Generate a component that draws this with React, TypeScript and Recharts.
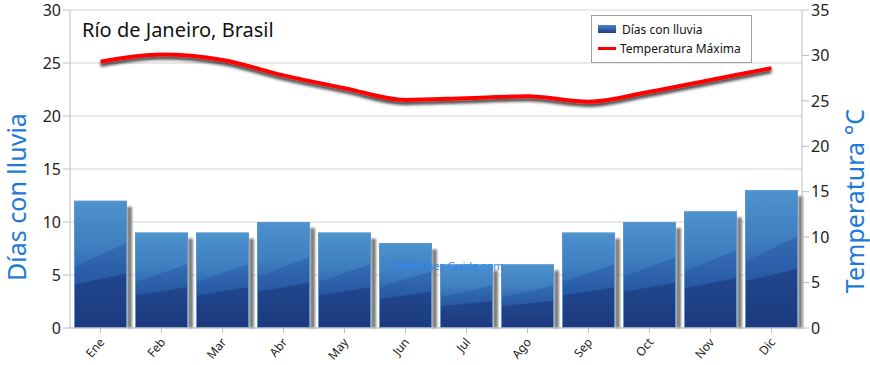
import { ComposedChart, Bar, Line, XAxis, YAxis, CartesianGrid } from 'recharts';

const MONTHS = ['Ene', 'Feb', 'Mar', 'Abr', 'May', 'Jun', 'Jul', 'Ago', 'Sep', 'Oct', 'Nov', 'Dic'];
const RAIN_DAYS = [12, 9, 9, 10, 9, 8, 6, 6, 9, 10, 11, 13];
const MAX_TEMP = [29.3, 30.1, 29.5, 27.8, 26.4, 25.1, 25.3, 25.5, 24.9, 26.0, 27.3, 28.6];
const LEFT_TICKS = [0, 5, 10, 15, 20, 25, 30];
const RIGHT_TICKS = [0, 5, 10, 15, 20, 25, 30, 35];

const data = MONTHS.map((m, i) => ({ month: m, rain: RAIN_DAYS[i], temp: MAX_TEMP[i] }));

const FONT = '"Comic Sans MS", "Noto Sans", sans-serif';

const RainBar = (props: any) => {
    const { x, y, width, height } = props;
    if (!height || height <= 0) return null;
    return (
        <g>
            <rect x={x + width} y={y + 6} width={5} height={height - 6} fill="#808080" filter="url(#barBlur)" />
            <rect x={x} y={y} width={width} height={height} fill="url(#barGrad)" />
            <path
                d={`M${x},${y + height * 0.52} L${x + width},${y + height * 0.33} L${x + width},${y + height} L${x},${y + height} Z`}
                fill="#22509e"
                opacity={0.4}
            />
            <path
                d={`M${x},${y + height * 0.66} L${x + width},${y + height * 0.57} L${x + width},${y + height} L${x},${y + height} Z`}
                fill="#1c3478"
                opacity={0.55}
            />
            <rect x={x + 0.5} y={y + 0.5} width={width - 1} height={height - 1} fill="none" stroke="#5d97cf" strokeWidth={1} />
        </g>
    );
};

const LegendBox = () => (
    <div
        style={{
            position: 'absolute',
            left: 591,
            top: 15,
            width: 161,
            height: 48,
            background: '#fff',
            border: '1px solid #a0a0a0',
            boxSizing: 'border-box',
            fontFamily: FONT,
            fontSize: 12,
            color: '#111',
            padding: '4px 0 0 6px',
            whiteSpace: 'nowrap',
        }}
    >
        <div style={{ display: 'flex', alignItems: 'center', height: 18 }}>
            <span style={{ width: 18, height: 8, background: 'linear-gradient(#4a86c5, #1e3d86)', marginRight: 6 }} />
            Días con lluvia
        </div>
        <div style={{ display: 'flex', alignItems: 'center', height: 20 }}>
            <span style={{ width: 18, height: 3, background: '#ff0000', marginRight: 4 }} />
            Temperatura Máxima
        </div>
    </div>
);

export default function App() {
    return (
        <div style={{ position: 'absolute', left: 0, top: 0, width: 870, height: 365, background: '#fff' }}>
            <ComposedChart
                width={870}
                height={365}
                data={data}
                margin={{ top: 10, right: 0, left: 0, bottom: 0 }}
                barCategoryGap={4}
            >
                <defs>
                    <linearGradient id="barGrad" x1="0" y1="0" x2="0" y2="1">
                        <stop offset="0%" stopColor="#4d92cd" />
                        <stop offset="35%" stopColor="#3f7fc0" />
                        <stop offset="65%" stopColor="#2b5ea9" />
                        <stop offset="100%" stopColor="#1c3476" />
                    </linearGradient>
                    <filter id="lineShadow" x="-5%" y="-50%" width="110%" height="200%">
                        <feDropShadow dx="0" dy="3" stdDeviation="1.5" floodColor="#000" floodOpacity="0.75" />
                    </filter>
                    <filter id="barBlur" x="-50%" y="-5%" width="200%" height="110%">
                        <feGaussianBlur stdDeviation="0.8" />
                    </filter>
                </defs>
                <CartesianGrid vertical={false} stroke="#d4d4d4" yAxisId="left" />
                <XAxis
                    dataKey="month"
                    height={37}
                    interval={0}
                    tick={{ fontSize: 12, fill: '#222', fontFamily: FONT, angle: -50, textAnchor: 'end', dx: -2, dy: 2 }}
                    tickSize={5}
                    stroke="#bdbdbd"
                />
                <YAxis
                    yAxisId="left"
                    domain={[0, 30]}
                    ticks={LEFT_TICKS}
                    width={70}
                    tick={{ fontSize: 16, fill: '#222', fontFamily: FONT }}
                    tickSize={7}
                    stroke="#bdbdbd"
                    label={{
                        value: 'Días con lluvia',
                        angle: -90,
                        position: 'insideLeft',
                        dx: 12,
                        dy: 28,
                        style: { fontSize: 25, fill: '#1e7ad6', fontFamily: FONT, textAnchor: 'middle' },
                    }}
                />
                <YAxis
                    yAxisId="right"
                    orientation="right"
                    domain={[0, 35]}
                    ticks={RIGHT_TICKS}
                    width={68}
                    tick={{ fontSize: 16, fill: '#222', fontFamily: FONT }}
                    tickSize={7}
                    stroke="#bdbdbd"
                    label={{
                        value: 'Temperatura °C',
                        angle: -90,
                        position: 'insideRight',
                        dx: -10,
                        dy: 32,
                        style: { fontSize: 25, fill: '#1e7ad6', fontFamily: FONT, textAnchor: 'middle' },
                    }}
                />
                <Bar yAxisId="left" dataKey="rain" name="Días con lluvia" shape={RainBar} isAnimationActive={false} />
                <Line
                    yAxisId="right"
                    type="monotone"
                    dataKey="temp"
                    name="Temperatura Máxima"
                    stroke="#ff0000"
                    strokeWidth={4}
                    dot={false}
                    activeDot={false}
                    filter="url(#lineShadow)"
                    isAnimationActive={false}
                />
            </ComposedChart>
            <div style={{ position: 'absolute', left: 82, top: 16, fontSize: 20, fontFamily: FONT, color: '#111', whiteSpace: 'nowrap' }}>
                Río de Janeiro, Brasil
            </div>
            <div style={{ position: 'absolute', left: 391, top: 258, fontSize: 11, fontFamily: FONT, color: '#2a86f5', whiteSpace: 'nowrap' }}>
                ©Weather-Guide.com
            </div>
            <LegendBox />
        </div>
    );
}
